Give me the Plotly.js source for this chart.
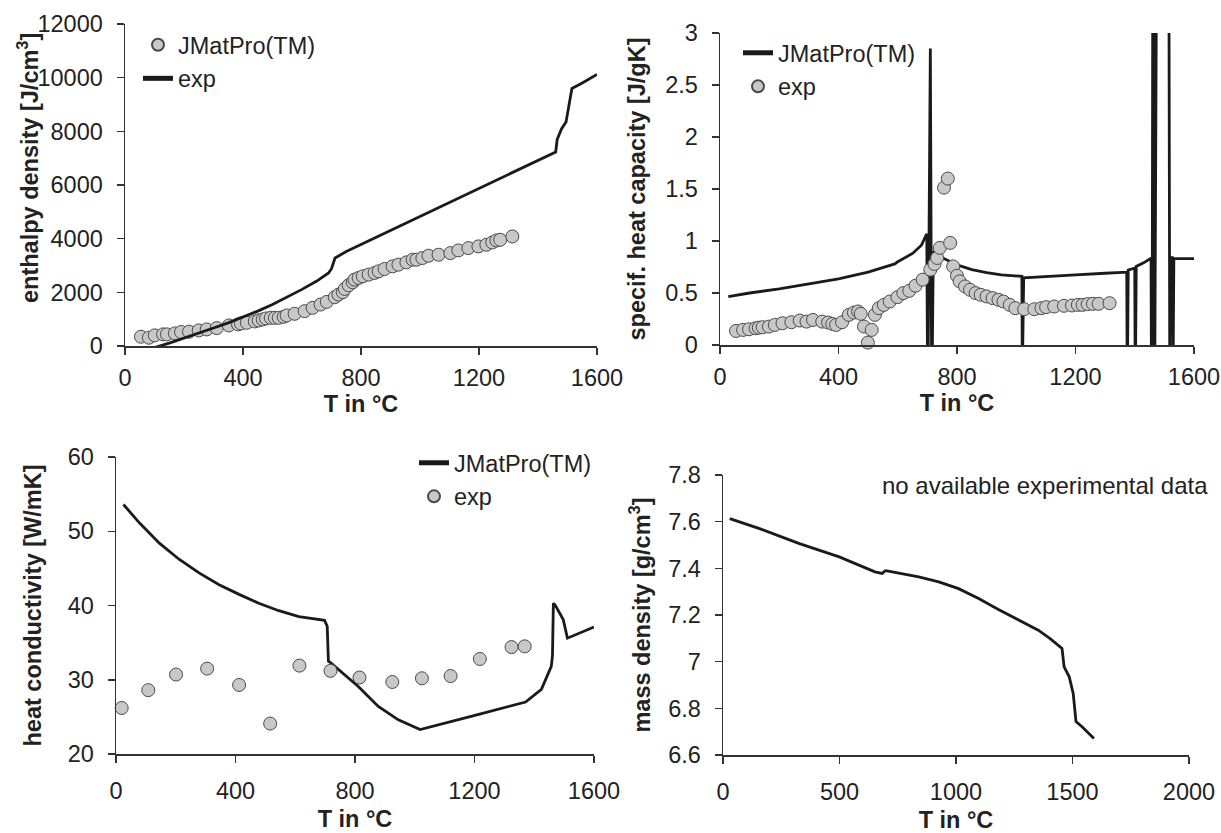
<!DOCTYPE html>
<html><head><meta charset="utf-8">
<script src="https://cdn.plot.ly/plotly-3.0.1.min.js"></script>
<style>html,body{margin:0;padding:0;background:#fff}#chart{width:1221px;height:833px}</style>
</head><body><div id="chart"></div>
<script>
// ---------- Panel 1: enthalpy density ----------
const enthLineT = [55, 100, 150, 200, 250, 300, 350, 400, 450, 500, 550, 600, 650, 690, 700, 705, 712, 750, 800, 900, 1000, 1100, 1200, 1300, 1400, 1460, 1465, 1480, 1495, 1505, 1515, 1550, 1600];
const enthLineH = [-240, -60, 110, 290, 480, 670, 860, 1070, 1300, 1550, 1820, 2110, 2420, 2720, 2880, 3050, 3280, 3520, 3780, 4300, 4830, 5360, 5880, 6400, 6930, 7230, 7700, 8100, 8350, 9000, 9600, 9800, 10120];
const enthDotT = [54, 81, 101, 129, 142, 169, 190, 217, 250, 277, 311, 352, 383, 393, 413, 440, 453, 467, 478, 494, 508, 521, 538, 548, 575, 609, 636, 663, 684, 711, 724, 738, 745, 758, 772, 778, 792, 806, 826, 846, 860, 880, 907, 927, 954, 975, 988, 1008, 1029, 1063, 1103, 1130, 1164, 1198, 1225, 1245, 1259, 1272, 1313];
const enthDotH = [346, 309, 396, 433, 433, 470, 520, 532, 581, 618, 668, 767, 804, 841, 866, 915, 953, 990, 1027, 1051, 1051, 1051, 1089, 1138, 1200, 1299, 1422, 1546, 1645, 1818, 1917, 2004, 2128, 2264, 2375, 2474, 2536, 2598, 2660, 2722, 2783, 2870, 2969, 3031, 3117, 3216, 3216, 3278, 3364, 3402, 3463, 3562, 3649, 3711, 3773, 3859, 3933, 3958, 4082];

// ---------- Panel 2: specific heat capacity ----------
const cpLineT = [28, 100, 200, 300, 400, 500, 590, 600, 650, 680, 698, 700, 703, 710, 714, 717, 720, 750, 800, 850, 900, 950, 1000, 1019, 1020, 1022, 1025, 1100, 1200, 1300, 1373, 1374, 1376, 1378, 1400, 1401, 1403, 1405, 1430, 1455, 1456, 1459, 1461, 1464, 1465, 1468, 1470, 1474, 1515, 1516, 1518, 1520, 1527, 1528, 1530, 1532, 1600];
const cpLineV = [0.465, 0.50, 0.54, 0.585, 0.635, 0.70, 0.78, 0.80, 0.88, 0.96, 1.07, 0, 0, 2.85, 0, 0, 0.90, 0.84, 0.77, 0.725, 0.695, 0.675, 0.66, 0.66, 0, 0, 0.645, 0.66, 0.675, 0.69, 0.70, 0, 0, 0.72, 0.74, 0, 0, 0.755, 0.79, 0.835, 0, 0, 4, 4, 0, 0, 2.3, 4, 4, 0, 0, 0.84, 0.84, 0, 0, 0.83, 0.83];
const cpDotT = [54, 78, 98, 120, 131, 144, 165, 185, 211, 241, 269, 292, 314, 345, 365, 379, 392, 412, 435, 452, 466, 475, 486, 499, 512, 523, 536, 553, 573, 599, 619, 639, 660, 684, 710, 724, 733, 742, 756, 769, 777, 787, 800, 809, 827, 844, 863, 880, 900, 920, 940, 957, 978, 997, 1027, 1061, 1085, 1101, 1128, 1161, 1188, 1208, 1224, 1241, 1259, 1278, 1315];
const cpDotV = [0.135, 0.145, 0.151, 0.161, 0.167, 0.171, 0.177, 0.193, 0.209, 0.219, 0.235, 0.225, 0.241, 0.225, 0.216, 0.203, 0.193, 0.219, 0.29, 0.312, 0.322, 0.30, 0.177, 0.023, 0.145, 0.29, 0.354, 0.386, 0.418, 0.46, 0.499, 0.521, 0.57, 0.628, 0.724, 0.779, 0.837, 0.934, 1.513, 1.60, 0.982, 0.756, 0.666, 0.612, 0.563, 0.531, 0.499, 0.483, 0.467, 0.451, 0.435, 0.418, 0.386, 0.354, 0.344, 0.344, 0.354, 0.364, 0.37, 0.377, 0.38, 0.386, 0.386, 0.393, 0.396, 0.396, 0.402];

// ---------- Panel 3: heat conductivity ----------
const kLineT = [25, 79, 145, 212, 278, 345, 412, 478, 545, 612, 698, 707, 711, 718, 811, 878, 945, 1018, 1211, 1371, 1424, 1457, 1461, 1464, 1471, 1497, 1511, 1600];
const kLineV = [53.6, 51.1, 48.4, 46.2, 44.4, 42.8, 41.5, 40.3, 39.3, 38.5, 38.0, 37.2, 32.5, 32.3, 29.1, 26.4, 24.6, 23.3, 25.3, 27.0, 28.7, 31.8, 33.2, 40.3, 40.0, 38.1, 35.6, 37.1];
const kDotT = [19, 108, 201, 305, 412, 516, 614, 718, 815, 925, 1024, 1120, 1218, 1324, 1368];
const kDotV = [26.2, 28.6, 30.7, 31.5, 29.3, 24.1, 31.9, 31.2, 30.3, 29.7, 30.2, 30.5, 32.8, 34.4, 34.5];

// ---------- Panel 4: mass density ----------
const rhoT = [29, 157, 328, 499, 652, 683, 695, 704, 840, 926, 1011, 1097, 1182, 1267, 1353, 1404, 1455, 1464, 1486, 1503, 1515, 1541, 1592];
const rhoV = [7.613, 7.570, 7.506, 7.449, 7.385, 7.378, 7.389, 7.389, 7.363, 7.342, 7.313, 7.271, 7.224, 7.178, 7.135, 7.099, 7.057, 6.978, 6.935, 6.864, 6.743, 6.721, 6.671];

const FONT = 'Liberation Sans, Arial, sans-serif';
const FS = 23.5;
const W = 1221, H = 833;
const lineStyle = {color: '#1a1a1a', width: 2.8};
const dotStyle = {size: 13, color: '#c8c8c8', line: {color: '#4a4a4a', width: 1}};

const traces = [
  {x: enthDotT, y: enthDotH, name: 'JMatPro(TM)', mode: 'markers', marker: dotStyle, cliponaxis: false, xaxis: 'x', yaxis: 'y', legend: 'legend'},
  {x: enthLineT, y: enthLineH, name: 'exp', mode: 'lines', line: lineStyle, xaxis: 'x', yaxis: 'y', legend: 'legend'},
  {x: cpLineT, y: cpLineV, name: 'JMatPro(TM)', mode: 'lines', line: lineStyle, xaxis: 'x2', yaxis: 'y2', legend: 'legend2'},
  {x: cpDotT, y: cpDotV, name: 'exp', mode: 'markers', marker: dotStyle, cliponaxis: false, xaxis: 'x2', yaxis: 'y2', legend: 'legend2'},
  {x: kLineT, y: kLineV, name: 'JMatPro(TM)', mode: 'lines', line: lineStyle, xaxis: 'x3', yaxis: 'y3', legend: 'legend3'},
  {x: kDotT, y: kDotV, name: 'exp', mode: 'markers', marker: dotStyle, cliponaxis: false, xaxis: 'x3', yaxis: 'y3', legend: 'legend3'},
  {x: rhoT, y: rhoV, name: 'JMatPro(TM)', mode: 'lines', line: lineStyle, xaxis: 'x4', yaxis: 'y4', showlegend: false}
];

function px(a, b) { return [a / W, b / W]; }
function py(top, bottom) { return [1 - bottom / H, 1 - top / H]; }

function axis(extra) {
  return Object.assign({
    showline: true, linecolor: '#333', linewidth: 1.5,
    ticks: 'outside', ticklen: 7, tickwidth: 1.5, tickcolor: '#333',
    showgrid: false, zeroline: false, tickformat: 'd', ticklabeloverflow: 'allow',
    tickfont: {family: FONT, size: FS, color: '#222'}
  }, extra);
}
function xtitle(standoff) {
  return {text: '<b>T in °C</b>', font: {family: FONT, size: FS, color: '#222'}, standoff: standoff};
}
function ytitle(t, standoff) {
  return {text: '<b>' + t + '</b>', font: {family: FONT, size: FS, color: '#222'}, standoff: standoff};
}
function leg(x, y) {
  return {x: x / W, y: 1 - y / H, xanchor: 'left', yanchor: 'top', bgcolor: 'rgba(0,0,0,0)',
          font: {family: FONT, size: FS, color: '#222'}, itemwidth: 30, tracegroupgap: 0, itemsizing: 'constant'};
}

const layout = {
  width: W, height: H,
  margin: {l: 0, r: 0, t: 0, b: 0},
  paper_bgcolor: '#fff', plot_bgcolor: '#fff',
  showlegend: true,
  xaxis: axis({domain: px(125, 597), range: [0, 1600], dtick: 400, anchor: 'y', ticklabelstandoff: 3, title: xtitle(4)}),
  yaxis: axis({domain: py(24, 346), range: [0, 12000], dtick: 2000, anchor: 'x', ticklabelstandoff: 9}),
  xaxis2: axis({domain: px(720, 1194), range: [0, 1600], dtick: 400, anchor: 'y2', ticklabelstandoff: 3, title: xtitle(4)}),
  yaxis2: axis({domain: py(33, 345), range: [0, 3], dtick: 0.5, tickformat: '', anchor: 'x2', ticklabelstandoff: 9, title: ytitle('specif. heat capacity [J/gK]', 13)}),
  xaxis3: axis({domain: px(116, 594), range: [0, 1600], dtick: 400, anchor: 'y3', ticklabelstandoff: 8, title: xtitle(8)}),
  yaxis3: axis({domain: py(457, 754), range: [20, 60], dtick: 10, anchor: 'x3', ticklabelstandoff: 9, title: ytitle('heat conductivity [W/mK]', 19)}),
  xaxis4: axis({domain: px(723, 1189), range: [0, 2000], dtick: 500, anchor: 'y4', ticklabelstandoff: 8, title: xtitle(8)}),
  yaxis4: axis({domain: py(475, 755), range: [6.6, 7.8], dtick: 0.2, tickformat: '', anchor: 'x4', ticklabelstandoff: 9, title: ytitle('mass density [g/cm<sup>3</sup>]', 11)}),
  legend: leg(138, 23),
  legend2: leg(738, 31),
  legend3: leg(414, 441),
  annotations: [
    {
      text: 'no available experimental data', xref: 'paper', yref: 'paper',
      x: 1210 / W, y: 1 - 485 / H, xanchor: 'right', yanchor: 'middle', showarrow: false,
      font: {family: FONT, size: 24, color: '#222'}
    },
    {
      text: '<b>enthalpy density [J/cm<sup>3</sup>]</b>', xref: 'paper', yref: 'paper',
      x: 28 / W, y: 1 - 168 / H, xanchor: 'center', yanchor: 'middle', textangle: -90, showarrow: false,
      font: {family: FONT, size: FS, color: '#222'}
    }
  ]
};

Plotly.newPlot('chart', traces, layout, {staticPlot: true, displayModeBar: false});
</script>
</body></html>
